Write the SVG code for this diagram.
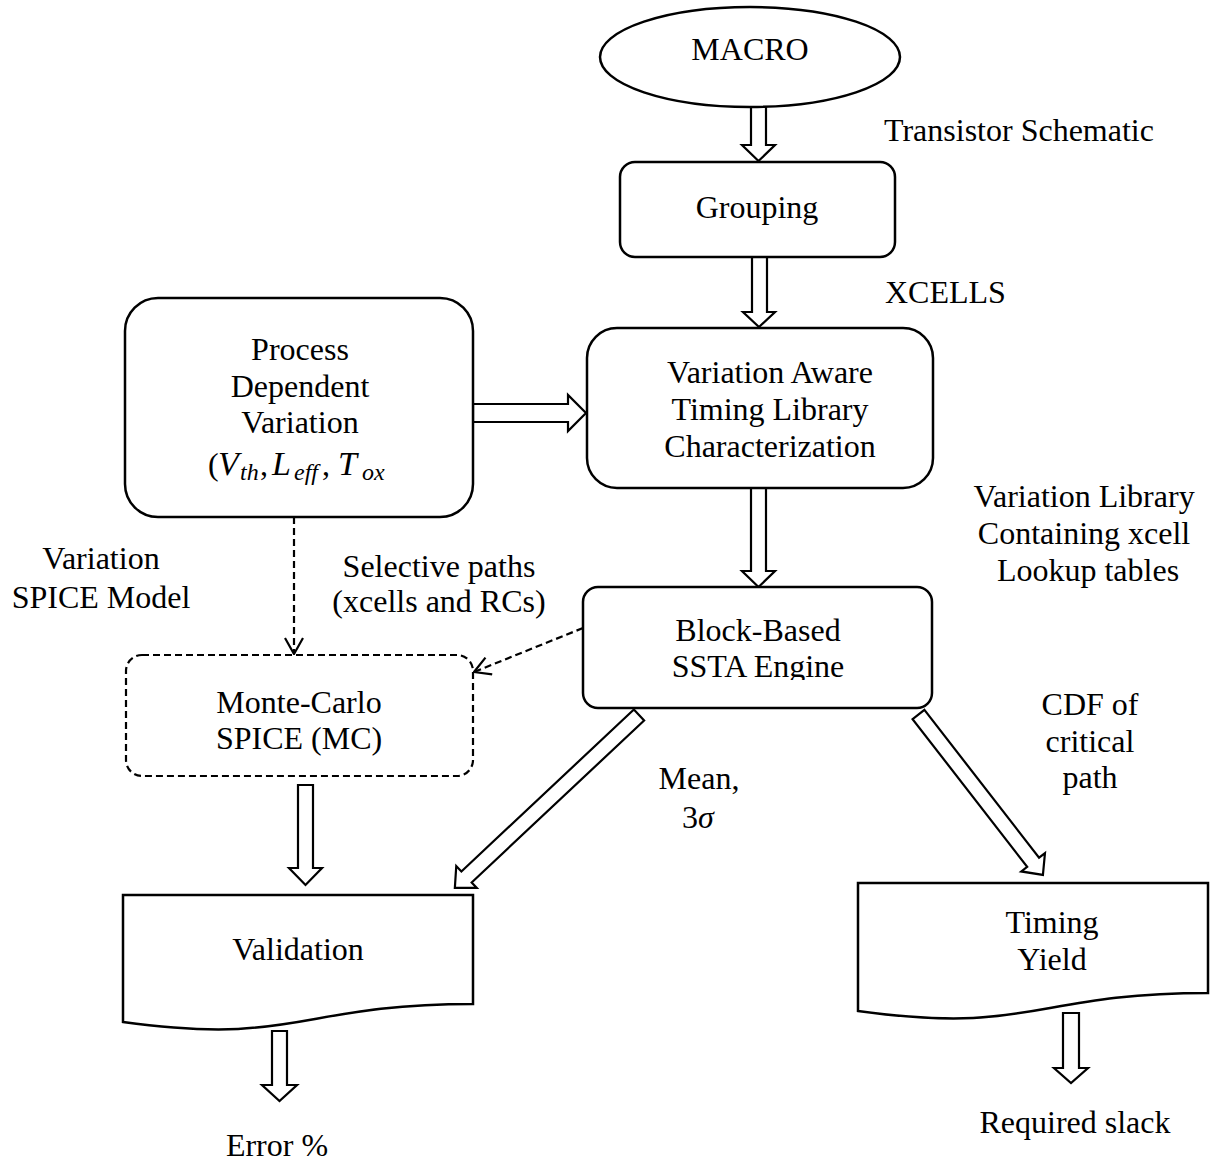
<svg xmlns="http://www.w3.org/2000/svg" width="1217" height="1165" viewBox="0 0 1217 1165">
  <style>
    text { font-family: "Liberation Serif", "Times New Roman", serif; font-size: 32px; fill: #000; }
    .c { text-anchor: middle; }
    .box { fill: #fff; stroke: #000; stroke-width: 2.5; }
    .dash { fill: #fff; stroke: #000; stroke-width: 2.2; stroke-dasharray: 7 4; }
    .blk { fill: #fff; stroke: #000; stroke-width: 2.2; stroke-linejoin: miter; }
    .dl { fill: none; stroke: #000; stroke-width: 2.2; stroke-dasharray: 7 4; }
    .m { font-style: italic; }
    .mi { font-style: italic; font-size: 34px; }
    .sub { font-style: italic; font-size: 24px; }
  </style>
  <defs>
    <marker id="open" viewBox="0 0 18 20" refX="17" refY="10" markerWidth="18" markerHeight="20" markerUnits="userSpaceOnUse" orient="auto">
      <path d="M1,1 L17,10 L1,19" fill="none" stroke="#000" stroke-width="2.2"/>
    </marker>
    <clipPath id="engineClip">
      <rect x="583" y="587" width="349" height="93"/>
    </clipPath>
  </defs>
  <rect width="1217" height="1165" fill="#fff"/>

  <!-- connectors -->
  <g id="connectors">
    <!-- block arrows -->
    <polygon class="blk" points="751,107 766,107 766,145 775,145 758.5,161 742,145 751,145"/>
    <polygon class="blk" points="752,257 767,257 767,312 775,312 759,327 743,312 752,312"/>
    <polygon class="blk" points="751,488 766,488 766,571 775,571 758.5,587 742,571 751,571"/>
    <polygon class="blk" points="473,404 568,404 568,395 586,413 568,431 568,422 473,422"/>
    <polygon class="blk" points="298,785 313,785 313,868 322,868 305.5,885 289,868 298,868"/>
    <polygon class="blk" points="272,1031 287,1031 287,1085 297,1085 279.5,1101 262,1085 272,1085"/>
    <polygon class="blk" points="1063,1013 1079,1013 1079,1068 1088,1068 1071,1083 1054,1068 1063,1068"/>
    <path class="blk" transform="translate(639,715) rotate(136.8)" d="M0,-7.5 H236.6 V-15 L252.6,0 L236.6,15 V7.5 H0 Z"/>
    <path class="blk" transform="translate(918.5,714.5) rotate(52.2)" d="M0,-7.5 H187 V-15 L203,0 L187,15 V7.5 H0 Z"/>
    <!-- dashed arrows -->
    <line class="dl" x1="294" y1="517" x2="294" y2="654" marker-end="url(#open)"/>
    <line class="dl" x1="583" y1="628" x2="474" y2="672" marker-end="url(#open)"/>
  </g>

  <!-- edge labels -->
  <g id="labels">
    <text x="884" y="141">Transistor Schematic</text>
    <text x="885" y="303">XCELLS</text>
    <text class="c" x="1084" y="507">Variation Library</text>
    <text class="c" x="1084" y="544">Containing xcell</text>
    <text class="c" x="1088" y="581">Lookup tables</text>
    <text class="c" x="101" y="569">Variation</text>
    <text class="c" x="101" y="608">SPICE Model</text>
    <text class="c" x="439" y="577">Selective paths</text>
    <text class="c" x="439" y="612">(xcells and RCs)</text>
    <text class="c" x="699" y="789">Mean,</text>
    <text x="682" y="828">3<tspan class="m">σ</tspan></text>
    <text class="c" x="1090" y="715">CDF of</text>
    <text class="c" x="1090" y="752">critical</text>
    <text class="c" x="1090" y="788">path</text>
    <text class="c" x="277" y="1156">Error %</text>
    <text class="c" x="1075" y="1133">Required slack</text>
  </g>

  <g id="macro">
    <ellipse class="box" cx="750" cy="57" rx="150" ry="50"/>
    <text class="c" x="750" y="60">MACRO</text>
  </g>

  <g id="grouping">
    <rect class="box" x="620" y="162" width="275" height="95" rx="15"/>
    <text class="c" x="757" y="218">Grouping</text>
  </g>

  <g id="characterization">
    <rect class="box" x="587" y="328" width="346" height="160" rx="30"/>
    <text class="c" x="770" y="383">Variation Aware</text>
    <text class="c" x="770" y="420">Timing Library</text>
    <text class="c" x="770" y="457">Characterization</text>
  </g>

  <g id="process">
    <rect class="box" x="125" y="298" width="348" height="219" rx="33"/>
    <text class="c" x="300" y="360">Process</text>
    <text class="c" x="300" y="397">Dependent</text>
    <text class="c" x="300" y="433">Variation</text>
    <text y="475"><tspan x="208">(</tspan><tspan class="mi" x="218">V</tspan><tspan class="sub" x="240" dy="5">th</tspan><tspan x="260" dy="-5">,</tspan><tspan class="mi" x="272">L</tspan><tspan class="sub" x="294" dy="5">eff</tspan><tspan x="322" dy="-5">,</tspan><tspan class="mi" x="338">T</tspan><tspan class="sub" x="362" dy="5">ox</tspan></text>
  </g>

  <g id="ssta">
    <rect class="box" x="583" y="587" width="349" height="121" rx="15"/>
    <text class="c" x="758" y="641">Block-Based</text>
    <text class="c" x="758" y="677" clip-path="url(#engineClip)">SSTA Engine</text>
  </g>

  <g id="montecarlo">
    <rect class="dash" x="126" y="655" width="347" height="121" rx="16"/>
    <text class="c" x="299" y="713">Monte-Carlo</text>
    <text class="c" x="299" y="749">SPICE (MC)</text>
  </g>

  <g id="validation">
    <path class="box" d="M123,895 H473 V1004 C298,1004 298,1046 123,1022 Z"/>
    <text class="c" x="298" y="960">Validation</text>
  </g>

  <g id="yield">
    <path class="box" d="M858,883 H1208 V993 C1033,993 1033,1035 858,1011 Z"/>
    <text class="c" x="1052" y="933">Timing</text>
    <text class="c" x="1052" y="970">Yield</text>
  </g>
</svg>
